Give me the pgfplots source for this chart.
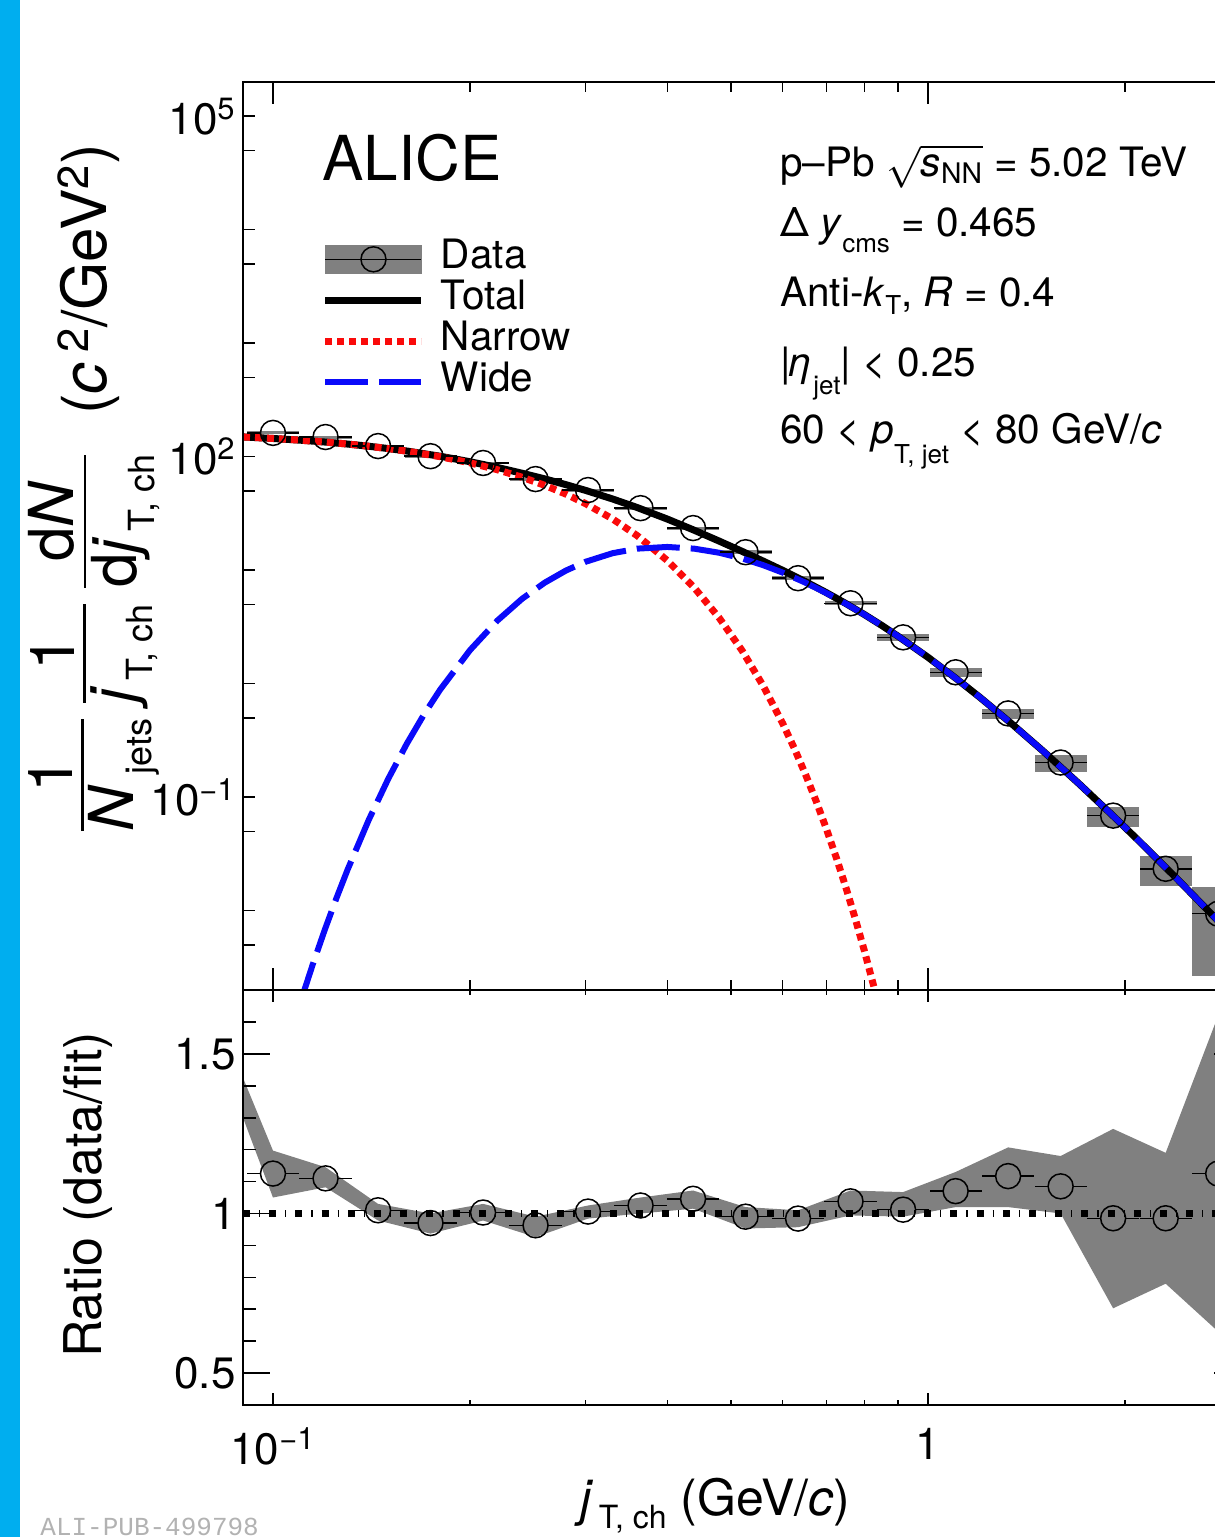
\documentclass[border=0pt]{standalone}
\usepackage{fontspec}
\setmainfont{TeX Gyre Heros}
\newfontfamily\idfont{Liberation Mono}
\usepackage{amsmath}
\usepackage{pgfplots}
\usepackage{pgfplotstable}
\pgfplotsset{compat=1.18}

\definecolor{stripe}{RGB}{0,174,239}
\definecolor{sysgray}{RGB}{128,128,128}
\definecolor{fitred}{RGB}{250,10,10}
\definecolor{fitblue}{RGB}{10,10,250}

% measured spectrum: bin centre, value, relative systematic uncertainty
\pgfplotstableread{
x       y       sys
0.1000  162     0.03
0.1203  149     0.03
0.1447  124     0.03
0.1740  101     0.03
0.2093  88.0    0.03
0.2517  63.5    0.03
0.3027  50.8    0.03
0.3641  35.2    0.03
0.4379  23.5    0.03
0.5267  14.4    0.04
0.6334  8.50    0.04
0.7618  5.11    0.04
0.9163  2.56    0.07
1.1021  1.26    0.09
1.3255  0.547   0.10
1.5942  0.202   0.17
1.9174  0.0688  0.20
2.3061  0.0234  0.30
2.7737  0.0094  0.72
}\spectrum

% data / fit
\pgfplotstableread{
x       r
0.1000  1.125
0.1203  1.110
0.1447  1.010
0.1740  0.970
0.2093  1.003
0.2517  0.963
0.3027  1.006
0.3641  1.025
0.4379  1.046
0.5267  0.990
0.6334  0.984
0.7618  1.038
0.9163  1.012
1.1021  1.070
1.3255  1.117
1.5942  1.085
1.9174  0.985
2.3061  0.985
2.7737  1.125
}\ratio

% fit components
\pgfplotstableread{
x     y
0.09  149.3
0.10  144.7
0.11  139.8
0.12  134.6
0.13  129.2
0.14  123.6
0.15  117.9
0.16  112.2
0.18  100.9
0.20  90.2
0.22  80.4
0.24  71.5
0.26  63.7
0.28  56.7
0.30  50.5
0.33  42.4
0.36  35.6
0.40  28.2
0.44  22.45
0.48  18.04
0.52  14.67
0.56  12.04
0.60  9.97
0.65  7.93
0.70  6.33
0.75  5.07
0.80  4.06
0.85  3.26
0.90  2.62
1.00  1.708
1.10  1.129
1.20  0.759
1.35  0.431
1.50  0.2537
1.70  0.1316
1.90  0.0719
2.10  0.0411
2.40  0.0191
2.70  0.00953
3.00  0.00506
}\total

\pgfplotstableread{
x      y
0.09   149.3
0.10   144.7
0.11   139.8
0.12   134.6
0.13   129.2
0.14   123.5
0.15   117.8
0.16   111.9
0.18   100.0
0.20   88.2
0.22   76.8
0.24   65.9
0.26   55.9
0.28   46.8
0.30   38.6
0.33   28.3
0.36   20.1
0.40   12.16
0.44   6.98
0.48   3.80
0.52   1.965
0.56   0.963
0.60   0.447
0.625  0.2699
0.65   0.1594
0.675  0.09226
0.70   0.0523
0.725  0.02904
0.75   0.0158
0.775  0.008418
0.80   0.00439
0.825  0.002246
0.85   0.00113
}\narrow

\pgfplotstableread{
x      y
0.110  0.00153
0.115  0.003354
0.120  0.006804
0.125  0.01289
0.13   0.0230
0.14   0.0629
0.15   0.1454
0.16   0.2941
0.17   0.5337
0.18   0.886
0.20   1.980
0.22   3.589
0.24   5.587
0.26   7.767
0.28   9.915
0.30   11.85
0.33   14.11
0.36   15.48
0.40   16.02
0.44   15.47
0.48   14.24
0.52   12.70
0.56   11.08
0.60   9.52
0.65   7.77
0.70   6.28
0.75   5.05
0.80   4.055
0.85   3.256
0.90   2.618
1.00   1.708
1.10   1.129
1.20   0.759
1.35   0.431
1.50   0.2537
1.70   0.1316
1.90   0.0719
2.10   0.0411
2.40   0.0191
2.70   0.00953
3.00   0.00506
}\wide

\newcommand\lsub[2]{\raisebox{-#1}{\fontsize{13}{13}\selectfont #2}}
\newcommand\ysub[2]{\raisebox{-#1}{\fontsize{18}{18}\selectfont #2}}
\newcommand\infofont{\fontsize{20.25}{24}\selectfont}
% stacked fraction set in the text font
\newcommand\rfrac[2]{\ensuremath{\vcenter{\offinterlineskip
  \halign{\hfil##\hfil\cr #1\cr
    \noalign{\kern4.5pt\hrule height 1.2pt\kern2.5pt}
    #2\cr}}}}

\begin{document}
\begin{tikzpicture}
\fill[stripe] (0pt,0pt) rectangle (10pt,-768.5pt);

% ---------------- spectrum panel ----------------
\begin{axis}[
  at={(121.5pt,-495pt)}, anchor=south west,
  scale only axis, width=498.75pt, height=454pt,
  xmode=log, ymode=log,
  xmin=0.09, xmax=3, ymin=2e-3, ymax=2e5,
  axis on top,
  axis line style={line width=0.8pt},
  tick style={line width=0.8pt, black},
  tick align=inside,
  ticklabel style={font=\fontsize{22}{26}\selectfont},
  yticklabel style={inner xsep=3.5pt},
  xtick={0.1,1}, xticklabels={},
  minor xtick={0.2,0.3,0.4,0.5,0.6,0.7,0.8,0.9,2,3},
  ytick={1e-1,1e2,1e5},
  yticklabels={10\textsuperscript{−1},10\textsuperscript{2},10\textsuperscript{5}},
  minor ytick={5e-3,1e-2,5e-2,5e-1,1,5,10,50,500,1000,5000,1e4,5e4},
  major tick length=6pt, minor tick length=6pt,
  xtick style={/pgfplots/major tick length=11pt, /pgfplots/minor tick length=5pt},
  legend cell align=left,
  legend style={draw=none, fill=none, at={(0.0792,0.8273)},
    anchor=north west, inner sep=0pt, outer sep=0pt,
    font=\infofont, row sep=0pt,
    nodes={inner sep=0pt, text height=14.6pt, text depth=5.9pt},
    column sep=8pt},
]
% systematic boxes
\addplot[forget plot, draw=none, mark=none,
  error bars/.cd, y dir=both, y explicit relative, error mark=none,
  error bar style={draw=sysgray, line width=26pt}]
  table[x=x, y=y, y error=sys] {\spectrum};
% fit curves
\addplot[forget plot, black, line width=3.5pt] table[x=x,y=y] {\total};
\addplot[forget plot, fitred, line width=3.5pt, dash pattern=on 3.5pt off 2.5pt] table[x=x,y=y] {\narrow};
\addplot[forget plot, fitblue, line width=3pt, dash pattern=on 21.5pt off 5.5pt] table[x=x,y=y] {\wide};
% bin widths, drawn outside the marker
\addplot[forget plot, draw=none, mark=none,
  error bars/.cd, x dir=minus, x explicit relative, error mark=none,
  error bar style={draw=black, line width=0.75pt}]
  table[x expr=\thisrow{x}/1.045, y=y, x error expr=0.0465] {\spectrum};
\addplot[forget plot, draw=none, mark=none,
  error bars/.cd, x dir=plus, x explicit relative, error mark=none,
  error bar style={draw=black, line width=0.75pt}]
  table[x expr=\thisrow{x}*1.045, y=y, x error expr=0.0488] {\spectrum};
% data points
\addplot[forget plot, only marks, mark=o, mark size=6.25pt,
  mark options={line width=0.75pt, black}] table[x=x,y=y] {\spectrum};

\addlegendimage{legend image code/.code={
  \fill[sysgray] (0pt,-7pt) rectangle (48pt,7pt);
  \draw[black, line width=0.75pt] (0pt,0pt) -- (48pt,0pt);
  \draw[black, line width=0.75pt] (24pt,0pt) circle[radius=6.25pt];}}
\addlegendentry{Data}
\addlegendimage{legend image code/.code={
  \draw[black, line width=3.5pt] (0pt,0pt) -- (48pt,0pt);}}
\addlegendentry{Total}
\addlegendimage{legend image code/.code={
  \draw[fitred, line width=3.5pt, dash pattern=on 3.5pt off 2.5pt] (0pt,0pt) -- (48pt,0pt);}}
\addlegendentry{Narrow}
\addlegendimage{legend image code/.code={
  \draw[fitblue, line width=3pt, dash pattern=on 21.5pt off 5.5pt] (0pt,0pt) -- (48pt,0pt);}}
\addlegendentry{Wide}
\end{axis}

% ---------------- ratio panel ----------------
\begin{axis}[
  at={(121.5pt,-495pt)}, anchor=north west,
  scale only axis, width=498.75pt, height=207.5pt,
  xmode=log, xmin=0.09, xmax=3, ymin=0.4, ymax=1.7,
  axis on top,
  axis line style={line width=0.8pt},
  tick style={line width=0.8pt, black},
  tick align=inside,
  ticklabel style={font=\fontsize{22}{26}\selectfont},
  yticklabel style={inner xsep=3.5pt},
  xtick={0.1,1},
  xticklabels={10\textsuperscript{−1},1},
  xticklabel style={yshift=-8pt},
  minor xtick={0.2,0.3,0.4,0.5,0.6,0.7,0.8,0.9,2,3},
  ytick={0.5,1,1.5}, yticklabels={0.5,1,1.5},
  minor ytick={0.6,0.7,0.8,0.9,1.1,1.2,1.3,1.4,1.6},
  major tick length=13.5pt, minor tick length=6.5pt,
  xtick style={/pgfplots/major tick length=6pt, /pgfplots/minor tick length=2.5pt},
]
% uncertainty band
\addplot[forget plot, fill=sysgray, draw=none] coordinates {
  (0.09,1.425) (0.1000,1.197) (0.1203,1.145) (0.1447,1.030) (0.1740,1.000)
  (0.2093,1.030) (0.2517,0.990) (0.3027,1.025) (0.3641,1.050) (0.4379,1.072)
  (0.5267,1.020) (0.6334,1.010) (0.7618,1.072) (0.9163,1.067) (1.1021,1.130)
  (1.3255,1.207) (1.5942,1.180) (1.9174,1.265) (2.3061,1.190) (2.7737,1.620)
  (2.7737,0.630) (2.3061,0.780) (1.9174,0.703) (1.5942,1.000) (1.3255,1.020)
  (1.1021,1.020) (0.9163,0.990) (0.7618,0.994) (0.6334,0.957) (0.5267,0.953)
  (0.4379,1.015) (0.3641,1.000) (0.3027,0.984) (0.2517,0.926) (0.2093,0.978)
  (0.1740,0.937) (0.1447,0.978) (0.1203,1.082) (0.1000,1.050) (0.09,1.300)
};
% unity
\addplot[forget plot, black, line width=3.5pt,
  dash pattern=on 3.5pt off 4.5pt on 0.6pt off 4.5pt] coordinates {(0.09,1) (3,1)};
\addplot[forget plot, draw=none, mark=none,
  error bars/.cd, x dir=minus, x explicit relative, error mark=none,
  error bar style={draw=black, line width=0.75pt}]
  table[x expr=\thisrow{x}/1.045, y=r, x error expr=0.0465] {\ratio};
\addplot[forget plot, draw=none, mark=none,
  error bars/.cd, x dir=plus, x explicit relative, error mark=none,
  error bar style={draw=black, line width=0.75pt}]
  table[x expr=\thisrow{x}*1.045, y=r, x error expr=0.0488] {\ratio};
\addplot[forget plot, only marks, mark=o, mark size=6.25pt,
  mark options={line width=0.75pt, black}] table[x=x,y=r] {\ratio};
\end{axis}

% ---------------- text ----------------
\node[anchor=base west, inner sep=0pt, font=\fontsize{31}{36}\selectfont] at (161pt,-90pt) {ALICE};

\node[anchor=base west, inner sep=0pt, font=\infofont] at (390pt,-88.35pt)
  {p–Pb $\sqrt{\text{\itshape s}_{\text{NN}}}$ = 5.02 TeV};
\node[anchor=base west, inner sep=0pt, font=\infofont] at (390pt,-118.35pt)
  {Δ \textit{y}\lsub{8pt}{cms} = 0.465};
\node[anchor=base west, inner sep=0pt, font=\infofont] at (390pt,-153.35pt)
  {Anti-\textit{k}\lsub{4pt}{T}, \textit{R} = 0.4};
\node[anchor=base west, inner sep=0pt, font=\infofont] at (390pt,-188.35pt)
  {|\textit{η}\lsub{9pt}{jet}| < 0.25};
\node[anchor=base west, inner sep=0pt, font=\infofont] at (390pt,-221.5pt)
  {60 < \textit{p}\lsub{10pt}{T, jet} < 80 GeV/\textit{c}};

\node[rotate=90, inner sep=0pt, font=\fontsize{31}{37}\selectfont] at (47pt,-243.75pt)
  {\rfrac{1}{\textit{N}\,\ysub{9pt}{jets}}\hspace{8pt}%
   \rfrac{1}{\textit{j}\ysub{9pt}{\,T, ch}}\hspace{8pt}%
   \rfrac{d\textit{N}}{d\textit{j}\ysub{9pt}{\,T, ch}}\hspace{20pt}%
   (\textit{c}\,\textsuperscript{2}/GeV\textsuperscript{2})};

\node[rotate=90, inner sep=0pt, font=\fontsize{26}{30}\selectfont] at (44pt,-597.5pt) {Ratio (data/fit)};

\node[anchor=base west, inner sep=0pt, font=\fontsize{25}{30}\selectfont] at (290pt,-757.5pt)
  {\textit{j}\raisebox{-6.5pt}{\fontsize{16}{16}\selectfont\,T, ch} (GeV/\textit{c})};

\node[anchor=base west, inner sep=0pt, text=gray!60, font=\idfont\fontsize{13}{13}\selectfont] at (20pt,-767.5pt) {ALI-PUB-499798};

\pgfresetboundingbox
\path[use as bounding box] (0pt,0pt) rectangle (607.5pt,-768.5pt);
\end{tikzpicture}
\end{document}
